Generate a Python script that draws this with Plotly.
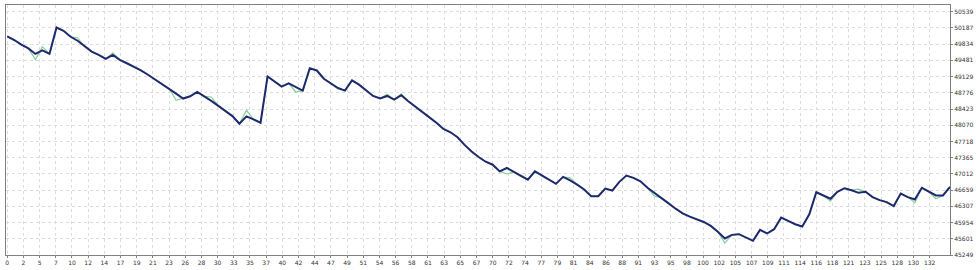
import plotly.graph_objects as go

# Balance (dark line) values per bar index
balance = [50001, 49923, 49822, 49742, 49621, 49699, 49621, 50195, 50124, 49994,
           49908, 49779, 49671, 49600, 49513, 49600, 49492, 49418, 49341, 49261,
           49168, 49067, 48959, 48873, 48758, 48651, 48700, 48793, 48700, 48599,
           48491, 48383, 48269, 48103, 48262, 48198, 48124, 49132, 49024, 48909,
           48981, 48901, 48823, 49311, 49261, 49082, 48981, 48879, 48823, 49045,
           48953, 48830, 48707, 48651, 48707, 48629, 48722, 48592, 48469, 48362,
           48241, 48124, 47988, 47917, 47809, 47643, 47499, 47380, 47277, 47212,
           47067, 47141, 47054, 46959, 46888, 47067, 46981, 46888, 46796, 46947,
           46873, 46780, 46673, 46528, 46528, 46694, 46651, 46839, 46975, 46925,
           46852, 46709, 46601, 46494, 46371, 46256, 46155, 46084, 46026, 45967,
           45881, 45756, 45609, 45687, 45702, 45631, 45557, 45795, 45717, 45810,
           46062, 45989, 45918, 45868, 46133, 46614, 46543, 46472, 46623, 46701,
           46658, 46601, 46623, 46507, 46442, 46399, 46312, 46586, 46507, 46457,
           46709, 46623, 46543, 46543, 46731]

# Equity (light green line): same as balance except where it deviates
equity_diff = {4: 49498, 5: 49779, 10: 49973, 15: 49643, 24: 48614, 29: 48685,
               34: 48398, 41: 48793, 54: 48743, 56: 48755, 71: 47011, 80: 46925,
               92: 46529, 102: 45508, 117: 46420, 121: 46680, 129: 46386, 132: 46472}
equity = [equity_diff.get(i, v) for i, v in enumerate(balance)]

x_labels = ["0", "2", "5", "7", "10", "12", "14", "17", "19", "21", "23", "26", "28",
            "30", "33", "35", "37", "40", "42", "44", "47", "49", "51", "54", "56", "58",
            "61", "63", "65", "67", "70", "72", "74", "77", "79", "81", "84", "86", "88",
            "91", "93", "95", "98", "100", "102", "105", "107", "109", "111", "114", "116",
            "118", "121", "123", "125", "128", "130", "132"]
y_labels = ["45249", "45601", "45954", "46307", "46659", "47012", "47365", "47718",
            "48070", "48423", "48776", "49129", "49481", "49834", "50187", "50539"]

x_step = 2.3
y_min, y_max = 45249.0, 50539.0
y_step = (y_max - y_min) / (len(y_labels) - 1)

xs = list(range(len(balance)))

fig = go.Figure()
fig.add_trace(go.Scatter(x=xs, y=equity, mode="lines",
                         line=dict(color="#86cf96", width=1.2), hoverinfo="skip"))
fig.add_trace(go.Scatter(x=xs, y=balance, mode="lines",
                         line=dict(color="#1f2a6e", width=2), hoverinfo="skip"))

fig.update_layout(
    width=977, height=270,
    margin=dict(l=6, r=24, t=4, b=14),
    paper_bgcolor="white", plot_bgcolor="white",
    showlegend=False,
    font=dict(family="DejaVu Sans", size=6, color="#333333"),
)
fig.update_xaxes(
    range=[-0.18, 134.0],
    tickvals=[k * x_step for k in range(len(x_labels))],
    ticktext=x_labels,
    showgrid=True, gridcolor="#dddddd", griddash="dot", gridwidth=1,
    showline=True, linecolor="#808080", linewidth=1, mirror=True,
    ticks="outside", ticklen=2, tickcolor="#808080",
    zeroline=False,
    tickfont=dict(size=6),
)
fig.update_yaxes(
    side="right",
    range=[y_min, y_min + 252 * (y_step / 16.35)],
    tickvals=[y_min + k * y_step for k in range(len(y_labels))],
    ticktext=y_labels,
    showgrid=True, gridcolor="#dddddd", griddash="dot", gridwidth=1,
    showline=True, linecolor="#808080", linewidth=1, mirror=True,
    ticks="outside", ticklen=2, tickcolor="#808080",
    zeroline=False,
    tickfont=dict(size=6),
)

fig.write_html("out.html")
